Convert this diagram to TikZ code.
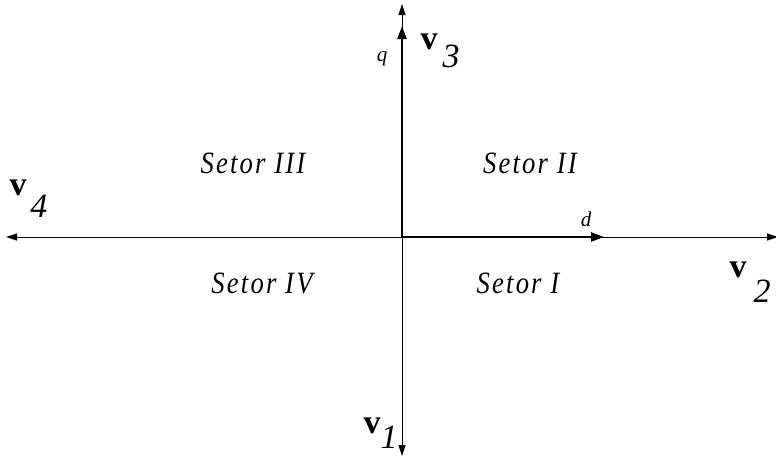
\documentclass[tikz,border=0pt]{standalone}
\usepackage{fontspec}
\setmainfont{Liberation Serif}
\newfontfamily\spaced[LetterSpace=7,FakeStretch=0.86]{Liberation Serif}
\usetikzlibrary{arrows.meta}
\begin{document}
\begin{tikzpicture}[x=1pt,y=-1pt,
  thinaxis/.style={line width=0.9pt,{Triangle[length=11pt,width=7pt]}-{Triangle[length=11pt,width=7pt]}},
  thickvec/.style={line width=2.4pt,-{Triangle[length=13pt,width=9pt]}},
  sector/.style={font=\spaced\itshape\fontsize{31}{33}\selectfont},
  vb/.style={inner sep=0pt,font=\bfseries\fontsize{34}{36}\selectfont},
  vsub/.style={inner sep=0pt,font=\itshape\fontsize{34}{36}\selectfont},
  small/.style={inner sep=0pt,font=\itshape\fontsize{21}{23}\selectfont}]
\useasboundingbox (0,0) rectangle (776,458);
\coordinate (O) at (402,237);
\coordinate (L) at (6,237);
\coordinate (R) at (778,237);
\coordinate (T) at (402,4);
\coordinate (B) at (402,456);
\coordinate (D) at (604,237);
\coordinate (Q) at (402,26);
\draw[thinaxis] (L) -- (R);
\draw[thinaxis] (B) -- (T);
\draw[thickvec] (O) -- (D);
\draw[thickvec] (O) -- (Q);
\node[small] (d) at (586,219) {d};
\node[small] (q) at (382,59) {q};
\node[vb] (v3) at (429,42) {v};
\node[vsub] (v3s) at (451,56) {3};
\node[vb] (v4) at (18,188) {v};
\node[vsub] (v4s) at (39,206) {4};
\node[vb] (v2) at (738,270) {v};
\node[vsub] (v2s) at (762,291) {2};
\node[vb] (v1) at (372,426) {v};
\node[vsub] (v1s) at (389,437) {1};
\node[sector] (s3) at (253,163) {Setor III};
\node[sector] (s2) at (530,163) {Setor II};
\node[sector] (s4) at (262,283) {Setor IV};
\node[sector] (s1) at (518,283) {Setor I};
\end{tikzpicture}
\end{document}
